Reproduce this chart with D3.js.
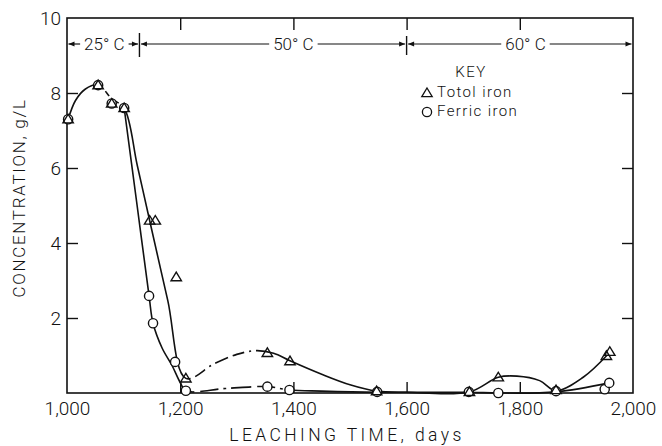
<!DOCTYPE html>
<html>
<head>
<meta charset="utf-8">
<script src="https://cdn.jsdelivr.net/npm/d3@7/dist/d3.min.js"></script>
<style>
  body { margin: 0; background: #fff; }
  svg text { font-family: Roboto, "DejaVu Sans", sans-serif; font-weight: 300; fill: #111; }
</style>
</head>
<body>
<svg id="chart" width="662" height="446"></svg>
<script>
// ---- Data -------------------------------------------------------------
// Measured samples: total iron (triangles)
const totalDays = [1002, 1055, 1079, 1101, 1146, 1156, 1193, 1210, 1354, 1394, 1547, 1711, 1762, 1864, 1953, 1959];
const totalIron = [7.3, 8.21, 7.72, 7.6, 4.6, 4.6, 3.09, 0.39, 1.07, 0.85, 0.05, 0.03, 0.42, 0.08, 0.99, 1.1];

// Measured samples: ferric iron (circles)
const ferricDays = [1002, 1055, 1079, 1101, 1145, 1152, 1191, 1210, 1354, 1393, 1548, 1710, 1762, 1864, 1950, 1958];
const ferricIron = [7.3, 8.21, 7.72, 7.6, 2.59, 1.86, 0.83, 0.06, 0.17, 0.08, 0.03, 0.03, 0.0, 0.05, 0.1, 0.27];

// Hand-faired trend curves drawn through the samples
const totalCurveDays = [1002, 1015, 1032, 1055, 1079, 1101, 1124, 1146, 1178, 1210, 1260, 1300, 1335, 1365, 1394, 1450, 1500, 1547, 1600, 1711, 1762, 1795, 1835, 1864, 1912, 1955];
const totalCurveConc = [7.3, 7.8, 8.1, 8.22, 7.85, 7.6, 6.08, 4.6, 2.47, 0.39, 0.78, 1.03, 1.13, 1.06, 0.86, 0.5, 0.22, 0.05, 0.02, 0.03, 0.42, 0.45, 0.33, 0.06, 0.42, 1.02];
const ferricCurveDays = [1101, 1123, 1145, 1152, 1168, 1186, 1200, 1210, 1280, 1354, 1393, 1450, 1548, 1710, 1762, 1864, 1958];
const ferricCurveConc = [7.6, 5.1, 2.59, 1.86, 1.2, 0.72, 0.28, 0.06, 0.12, 0.17, 0.08, 0.05, 0.02, 0.02, 0.0, 0.03, 0.27];

// Axis ticks
const xTicks = [1000, 1200, 1400, 1600, 1800, 2000];
const yTicks = [2, 4, 6, 8, 10];

// Leaching temperature periods
const periodLabels = ["25° C", "50° C", "60° C"];
const periodBounds = [1000, 1128, 1600, 2000];
const periodLabelDays = [1066, 1400, 1810];

const legendLabels = ["Totol iron", "Ferric iron"];

// ---- Layout -----------------------------------------------------------
const svg = d3.select("#chart");
const x = d3.scaleLinear().domain([1000, 2000]).range([67, 633]);
const y = d3.scaleLinear().domain([0, 10]).range([393, 18]);
const ink = "#111";

// Frame
svg.append("rect")
  .attr("x", x(1000)).attr("y", y(10))
  .attr("width", x(2000) - x(1000)).attr("height", y(0) - y(10))
  .attr("fill", "none").attr("stroke", ink).attr("stroke-width", 1.6);

const innerX = xTicks.filter(d => d > 1000 && d < 2000);
const innerY = yTicks.filter(d => d < 10);

// Bottom axis with labels
const gx = svg.append("g").attr("transform", `translate(0,${y(0)})`)
  .call(d3.axisBottom(x).tickValues(xTicks).tickFormat(d3.format(",")).tickSizeInner(-11).tickSizeOuter(0).tickPadding(9));
gx.selectAll("text").style("font-size", "19px");
// Left axis with labels
const gy = svg.append("g").attr("transform", `translate(${x(1000)},0)`)
  .call(d3.axisLeft(y).tickValues(yTicks).tickSizeInner(-11).tickSizeOuter(0).tickPadding(6));
gy.selectAll("text").style("font-size", "19px");
// Top and right axes: ticks only
svg.append("g").attr("transform", `translate(0,${y(10)})`)
  .call(d3.axisTop(x).tickValues(innerX).tickFormat("").tickSizeInner(-12).tickSizeOuter(0));
svg.append("g").attr("transform", `translate(${x(2000)},0)`)
  .call(d3.axisRight(y).tickValues(innerY).tickFormat("").tickSizeInner(-11).tickSizeOuter(0));
svg.selectAll(".domain").remove();
svg.selectAll(".tick line").attr("stroke", ink).attr("stroke-width", 1.4);
gx.selectAll(".tick").filter(d => d === 1000 || d === 2000).select("line").remove();
gy.selectAll(".tick").filter(d => d === 10).select("line").remove();

// Axis titles
svg.append("text")
  .attr("x", 347).attr("y", 441).attr("text-anchor", "middle")
  .style("font-size", "17.5px").style("letter-spacing", "3.4px")
  .text("LEACHING TIME, days");
svg.append("text")
  .attr("transform", "translate(25,198) rotate(-90)").attr("text-anchor", "middle")
  .style("font-size", "17px").style("letter-spacing", "1.7px")
  .text("CONCENTRATION, g/L");

// ---- Temperature bands --------------------------------------------------
const bandY = 44;
const band = svg.append("g");
function arrowHead(px, dir) {
  // dir = -1 points left, +1 points right
  band.append("path")
    .attr("d", `M${px},${bandY} L${px - dir * 6},${bandY - 2.5} L${px - dir * 6},${bandY + 2.5} Z`)
    .attr("fill", ink);
}
periodBounds.slice(1, -1).forEach((b, i) => {
  band.append("line")
    .attr("x1", x(b)).attr("x2", x(b))
    .attr("y1", bandY - (i === 0 ? 11 : 8)).attr("y2", bandY + (i === 0 ? 13 : 11))
    .attr("stroke", ink).attr("stroke-width", 1.4);
});
periodLabels.forEach((lab, i) => {
  const t = band.append("text")
    .attr("x", x(periodLabelDays[i])).attr("y", bandY + 6)
    .attr("text-anchor", "middle").style("font-size", "17px")
    .text(lab);
  const w = t.node().getComputedTextLength();
  const left = x(periodBounds[i]) + 1.5, right = x(periodBounds[i + 1]) - 1.5;
  const tl = x(periodLabelDays[i]) - w / 2 - 4, tr = x(periodLabelDays[i]) + w / 2 + 4;
  band.append("line").attr("x1", left).attr("x2", tl).attr("y1", bandY).attr("y2", bandY)
    .attr("stroke", ink).attr("stroke-width", 1.2);
  band.append("line").attr("x1", tr).attr("x2", right).attr("y1", bandY).attr("y2", bandY)
    .attr("stroke", ink).attr("stroke-width", 1.2);
  arrowHead(left, -1);
  arrowHead(right, 1);
});

// ---- Trend curves -------------------------------------------------------
const line = d3.line().x(d => x(d[0])).y(d => y(d[1])).curve(d3.curveCatmullRom.alpha(0.5));

function lengthAtX(node, px) {
  const total = node.getTotalLength();
  let lo = 0, hi = total;
  for (let k = 0; k < 40; k++) {
    const mid = (lo + hi) / 2;
    if (node.getPointAtLength(mid).x < px) lo = mid; else hi = mid;
  }
  return lo;
}
// Solid curve with broken stretches between the given day ranges.
// Each break pattern lists gap, dash, gap, dash ... lengths.
function drawCurve(days, conc, breaks) {
  const pts = days.map((d, i) => [d, conc[i]]);
  const path = svg.append("path").attr("d", line(pts))
    .attr("fill", "none").attr("stroke", ink).attr("stroke-width", 1.6);
  const node = path.node();
  const total = node.getTotalLength();
  const segs = []; // [isDash, length]
  let pos = 0;
  breaks.forEach(r => {
    const a = lengthAtX(node, x(r[0])), b = lengthAtX(node, x(r[1]));
    segs.push([true, a - pos]);
    pos = a;
    let k = 0;
    while (pos < b) {
      const len = r[2][k % r[2].length];
      segs.push([k % 2 === 1, len]);
      pos += len; k++;
    }
  });
  segs.push([true, total - pos + 10]);
  // merge runs and convert to a dash/gap list starting with a dash
  const merged = [];
  segs.forEach(s => {
    if (merged.length && merged[merged.length - 1][0] === s[0]) merged[merged.length - 1][1] += s[1];
    else merged.push([s[0], s[1]]);
  });
  const arr = [];
  if (!merged[0][0]) arr.push(0);
  merged.forEach(s => arr.push(Math.max(0, s[1])));
  if (arr.length % 2 === 1) arr.push(0);
  path.attr("stroke-dasharray", arr.join(","));
}
drawCurve(totalCurveDays, totalCurveConc, [
  [1062, 1100, [5, 6, 4, 8]],
  [1218, 1335, [5, 12, 5, 2, 5, 14]]
]);
drawCurve(ferricCurveDays, ferricCurveConc, [
  [1225, 1420, [6, 18, 5, 3, 5, 20]]
]);

// ---- Markers --------------------------------------------------------------
const triPath = "M0,-5 L5.2,3.6 L-5.2,3.6 Z";
svg.append("g").selectAll("circle")
  .data(ferricDays.map((d, i) => [d, ferricIron[i]]))
  .join("circle")
  .attr("cx", d => x(d[0])).attr("cy", d => y(d[1])).attr("r", 4.6)
  .attr("fill", "#fff").attr("stroke", ink).attr("stroke-width", 1.4);
svg.append("g").selectAll("path")
  .data(totalDays.map((d, i) => [d, totalIron[i]]))
  .join("path")
  .attr("d", triPath)
  .attr("transform", d => `translate(${x(d[0])},${y(d[1])})`)
  .attr("fill", "none").attr("stroke", ink).attr("stroke-width", 1.4);

// ---- Key ------------------------------------------------------------------
const key = svg.append("g");
key.append("text").attr("x", 471).attr("y", 77).attr("text-anchor", "middle")
  .style("font-size", "15px").style("letter-spacing", "1.5px").text("KEY");
key.append("path").attr("d", triPath).attr("transform", "translate(427,93)")
  .attr("fill", "none").attr("stroke", ink).attr("stroke-width", 1.3);
key.append("circle").attr("cx", 427).attr("cy", 112).attr("r", 4.6)
  .attr("fill", "none").attr("stroke", ink).attr("stroke-width", 1.3);
legendLabels.forEach((lab, i) => {
  key.append("text").attr("x", 437).attr("y", 97 + i * 19)
    .style("font-size", "15px").style("letter-spacing", "1.4px").text(lab);
});
</script>
</body>
</html>
